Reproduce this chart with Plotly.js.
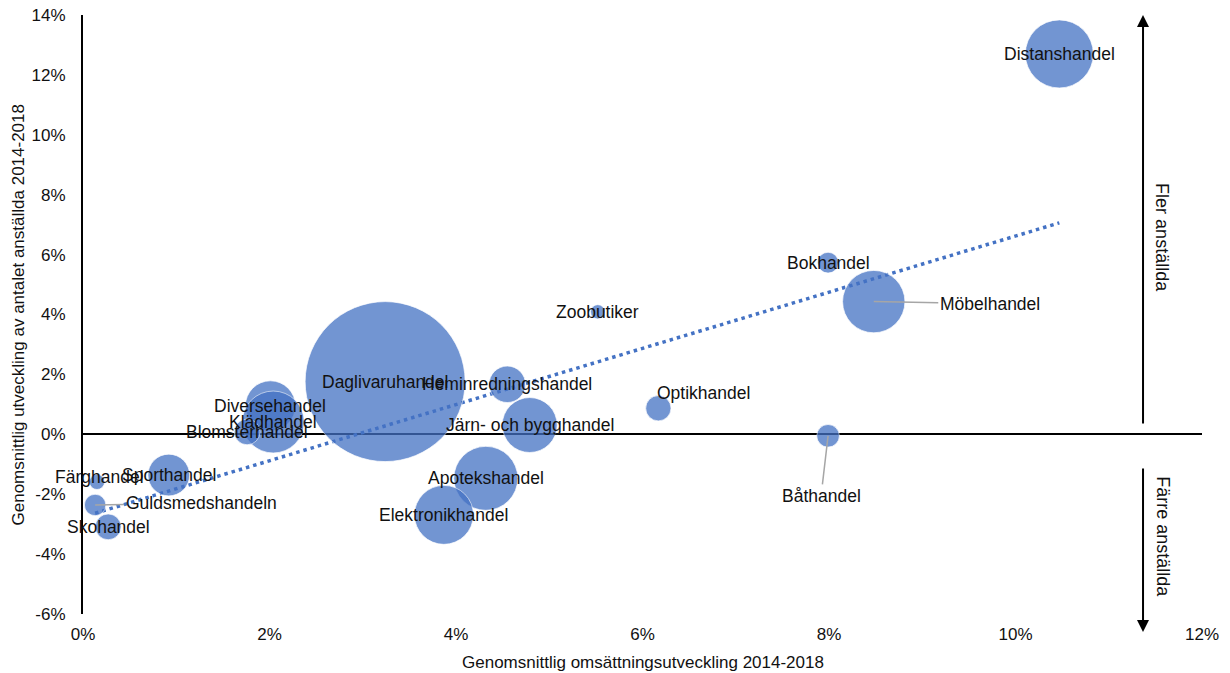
<!DOCTYPE html>
<html>
<head>
<meta charset="utf-8">
<script src="https://cdn.plot.ly/plotly-3.0.1.min.js"></script>
<style>
  html, body { margin: 0; padding: 0; background: #fff; }
  #chart { width: 1230px; height: 673px; }
</style>
</head>
<body>
<div id="chart"></div>
<script>
// Branscher
const branscher = [
  'Distanshandel', 'Bokhandel', 'Möbelhandel', 'Båthandel', 'Zoobutiker',
  'Optikhandel', 'Järn- och bygghandel', 'Heminredningshandel', 'Daglivaruhandel',
  'Apotekshandel', 'Elektronikhandel', 'Diversehandel', 'Klädhandel',
  'Blomsterhandel', 'Sporthandel', 'Färghandel', 'Guldsmedshandeln', 'Skohandel'
];

// Genomsnittlig omsättningsutveckling 2014-2018 (%)
const omsattning = [
  10.47, 7.99, 8.48, 7.99, 5.52,
  6.17, 4.79, 4.55, 3.24,
  4.32, 3.87, 2.01, 2.04,
  1.76, 0.92, 0.15, 0.13, 0.27
];

// Genomsnittlig utveckling av antalet anställda 2014-2018 (%)
const anstallda = [
  12.70, 5.73, 4.43, -0.05, 4.09,
  0.87, 0.31, 1.67, 1.76,
  -1.47, -2.69, 0.95, 0.41,
  0.08, -1.36, -1.59, -2.36, -3.09
];

// Bubbelstorlek (relativ, Daglivaruhandel = 100)
const storlek = [
  18.1, 1.7, 15.2, 2.0, 0.8,
  2.5, 11.8, 5.2, 100,
  16.0, 13.6, 9.8, 15.0,
  2.6, 6.8, 0.9, 1.8, 2.6
];

// Axlar
const xTickVals = [0, 2, 4, 6, 8, 10, 12];
const xTickText = ['0%', '2%', '4%', '6%', '8%', '10%', '12%'];
const yTickVals = [-6, -4, -2, 0, 2, 4, 6, 8, 10, 12, 14];
const yTickText = ['-6%', '-4%', '-2%', '0%', '2%', '4%', '6%', '8%', '10%', '12%', '14%'];

const FONT = 'Arial, "Liberation Sans", sans-serif';
const TEXT = '#111111';
const BLUE = '#4472C4';

// Linjär trendlinje (minsta kvadrat) över alla branscher
function trend(xs, ys) {
  const n = xs.length;
  const mx = xs.reduce((a, b) => a + b, 0) / n;
  const my = ys.reduce((a, b) => a + b, 0) / n;
  let sxy = 0, sxx = 0;
  for (let i = 0; i < n; i++) {
    sxy += (xs[i] - mx) * (ys[i] - my);
    sxx += (xs[i] - mx) * (xs[i] - mx);
  }
  const k = sxy / sxx;
  const m = my - k * mx;
  const x0 = Math.min(...xs), x1 = Math.max(...xs);
  return { x: [x0, x1], y: [k * x0 + m, k * x1 + m] };
}
const tl = trend(omsattning, anstallda);

// Största bubblan får diametern 160 px
const maxDiameter = 160;

const bubbles = {
  type: 'scatter',
  mode: 'markers',
  x: omsattning,
  y: anstallda,
  text: branscher,
  hoverinfo: 'text',
  marker: {
    size: storlek,
    sizemode: 'area',
    sizeref: 2 * Math.max(...storlek) / (maxDiameter * maxDiameter),
    color: BLUE,
    opacity: 0.75,
    line: { color: 'rgba(255,255,255,0.7)', width: 1 }
  },
  showlegend: false
};

const trendLine = {
  type: 'scatter',
  mode: 'lines',
  x: tl.x,
  y: tl.y,
  line: { color: BLUE, width: 3.5, dash: '3.5px,4px' },
  hoverinfo: 'skip',
  showlegend: false
};

// Etikettplacering per bransch
const labelStyle = {
  'Möbelhandel': { ax: 116, ay: 2 },
  'Båthandel': { ax: -7, ay: 60 },
  'Guldsmedshandeln': { ax: 106, ay: -2 },
  'Optikhandel': { xshift: 45, yshift: 15 },
  'Färghandel': { xshift: 3, yshift: 5 }
};

const LABEL_SIZE = 17.5;

const annotations = branscher.map((name, i) => {
  const s = labelStyle[name] || {};
  const a = {
    x: omsattning[i], y: anstallda[i], xref: 'x', yref: 'y',
    text: name,
    font: { family: FONT, size: LABEL_SIZE, color: TEXT },
    showarrow: false,
    xanchor: 'center', yanchor: 'middle'
  };
  if (s.ax !== undefined) {
    a.showarrow = true;
    a.ax = s.ax; a.ay = s.ay;
    a.arrowhead = 0;
    a.arrowwidth = 1.5;
    a.arrowcolor = '#A6A6A6';
    a.standoff = 0;
  }
  if (s.xshift) a.xshift = s.xshift;
  if (s.yshift) a.yshift = s.yshift;
  return a;
});

// Axeltitlar
annotations.push({
  xref: 'paper', yref: 'paper', x: 0.5, y: 0, yshift: -48,
  xanchor: 'center', yanchor: 'middle', showarrow: false,
  text: 'Genomsnittlig omsättningsutveckling 2014-2018',
  font: { family: FONT, size: 17, color: TEXT }
});
annotations.push({
  xref: 'paper', yref: 'paper', x: 0, y: 0.5, xshift: -65,
  xanchor: 'center', yanchor: 'middle', showarrow: false, textangle: -90,
  text: 'Genomsnittlig utveckling av antalet anställda 2014-2018',
  font: { family: FONT, size: 17, color: TEXT }
});

// Pilar och texter till höger
annotations.push({
  xref: 'paper', yref: 'paper', x: 0.9473, y: 1.0,
  ax: 0, ay: 410, text: '', showarrow: true,
  arrowhead: 2, arrowsize: 1.2, arrowwidth: 2, arrowcolor: '#000', standoff: 0
});
annotations.push({
  xref: 'paper', yref: 'paper', x: 0.9473, y: -0.030,
  ax: 0, ay: -165, text: '', showarrow: true,
  arrowhead: 2, arrowsize: 1.2, arrowwidth: 2, arrowcolor: '#000', standoff: 0
});
annotations.push({
  xref: 'paper', yref: 'paper', x: 0.964, y: 0.628,
  xanchor: 'center', yanchor: 'middle', showarrow: false, textangle: 90,
  text: 'Fler anställda',
  font: { family: FONT, size: 18, color: TEXT }
});
annotations.push({
  xref: 'paper', yref: 'paper', x: 0.965, y: 0.1285,
  xanchor: 'center', yanchor: 'middle', showarrow: false, textangle: 90,
  text: 'Färre anställda',
  font: { family: FONT, size: 18, color: TEXT }
});

const layout = {
  width: 1230,
  height: 673,
  margin: { l: 83, r: 28, t: 15, b: 59 },
  paper_bgcolor: '#ffffff',
  plot_bgcolor: '#ffffff',
  font: { family: FONT, size: 17, color: TEXT },
  showlegend: false,
  hovermode: 'closest',
  xaxis: {
    range: [0, 12],
    tickvals: xTickVals,
    ticktext: xTickText,
    ticks: '',
    ticklabelstandoff: 8,
    showgrid: false,
    zeroline: false,
    showline: false,
    tickfont: { family: FONT, size: 17, color: TEXT }
  },
  yaxis: {
    range: [-6, 14],
    tickvals: yTickVals,
    ticktext: yTickText,
    ticks: '',
    ticklabelstandoff: 12,
    showgrid: false,
    zeroline: true,
    zerolinecolor: '#000000',
    zerolinewidth: 2,
    showline: true,
    linecolor: '#000000',
    linewidth: 2,
    tickfont: { family: FONT, size: 17, color: TEXT }
  },
  annotations: annotations
};

Plotly.newPlot('chart', [trendLine, bubbles], layout, { displayModeBar: false, staticPlot: true });
</script>
</body>
</html>
